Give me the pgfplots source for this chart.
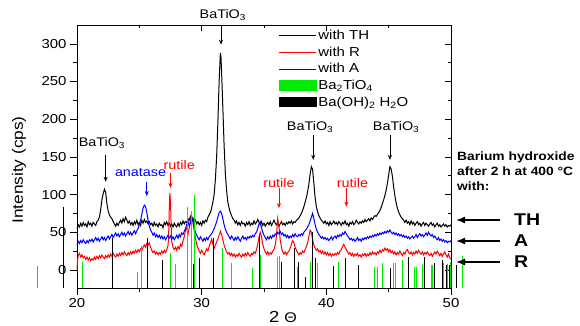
\documentclass[border=0pt]{standalone}
\usepackage{pgfplots}
\pgfplotsset{compat=1.18}
\usepackage{fontspec}
\setmainfont{Liberation Sans}[FakeStretch=1.15]
\usetikzlibrary{arrows.meta}
\definecolor{cgreen}{RGB}{0,235,0}
\begin{document}
\begin{tikzpicture}
\useasboundingbox (0pt,0pt) rectangle (580pt,326pt);
% overlay axis: top/right inside ticks
\begin{axis}[
  at={(77pt,38pt)}, anchor=south west, scale only axis, width=374pt, height=263pt,
  xmin=20, xmax=50, ymin=-24, ymax=325,
  axis x line*=top, axis y line*=right, tick align=inside,
  xtick={20,30,40,50}, minor x tick num=1,
  ytick={0,50,...,300}, minor y tick num=1,
  major tick length=6pt, minor tick length=3.5pt,
  xticklabels={}, yticklabels={},
  every tick/.style={black, line width=0.6pt},
  axis line style={line width=0.8pt},
]
\end{axis}
\begin{axis}[
  at={(77pt,38pt)}, anchor=south west, scale only axis, width=374pt, height=263pt,
  xmin=20, xmax=50, ymin=-24, ymax=325,
  axis x line*=bottom, axis y line*=left, tick align=outside,
  xtick={20,30,40,50}, minor x tick num=1,
  ytick={0,50,...,300}, minor y tick num=1,
  major tick length=7pt, minor tick length=4pt,
  every tick/.style={black, line width=0.6pt},
  axis line style={line width=0.8pt},
  ticklabel style={font=\fontsize{13}{15}\selectfont},
  /pgf/number format/assume math mode=true,
  clip=false,
  legend style={at={(axis description cs:0.53,0.995)}, anchor=north west, draw=none, fill=none,
    font=\fontsize{13}{15}\selectfont, row sep=1.6pt},
  legend cell align=left,
  legend image code/.code={\draw[mark repeat=2,mark phase=2,#1] plot coordinates {(0cm,0cm) (0.65cm,0cm) (1.3cm,0cm)};},
  unbounded coords=jump,
]
\addplot[black, line width=1pt] coordinates {
(20.0,55)(20.1,60)(20.2,57)(20.3,62)(20.4,58)(20.5,63)(20.6,59)(20.7,61)(20.8,57)(20.9,64)(21.0,60)(21.1,62)(21.2,58)(21.3,63)(21.4,61)(21.5,59)(21.6,64)(21.7,66)(21.8,70)(21.9,80)(22.0,93)(22.1,101)(22.2,107)(22.3,103)(22.4,88)(22.5,78)(22.6,73)(22.7,70)(22.8,68)(22.9,64)(23.0,61)(23.1,58)(23.2,62)(23.3,59)(23.4,63)(23.5,66)(23.6,62)(23.7,68)(23.8,64)(23.9,70)(24.0,66)(24.1,62)(24.2,65)(24.3,60)(24.4,63)(24.5,59)(24.6,64)(24.7,61)(24.8,66)(24.9,60)(25.0,63)(25.1,59)(25.2,66)(25.3,62)(25.4,67)(25.5,63)(25.6,65)(25.7,61)(25.8,64)(25.9,60)(26.0,62)(26.1,58)(26.2,63)(26.3,59)(26.4,61)(26.5,57)(26.6,62)(26.7,59)(26.8,60)(26.9,56)(27.0,63)(27.1,60)(27.2,64)(27.3,59)(27.4,62)(27.5,58)(27.6,61)(27.7,57)(27.8,62)(27.9,59)(28.0,57)(28.1,62)(28.2,58)(28.3,63)(28.4,60)(28.5,65)(28.6,61)(28.7,64)(28.8,63)(28.9,68)(29.0,66)(29.1,71)(29.2,65)(29.3,69)(29.4,63)(29.5,66)(29.6,61)(29.7,64)(29.8,60)(29.9,63)(30.0,59)(30.1,65)(30.2,62)(30.3,66)(30.4,64)(30.5,70)(30.6,73)(30.7,76)(30.8,82)(30.9,90)(31.0,100)(31.1,120)(31.2,150)(31.3,195)(31.4,250)(31.5,288)(31.55,282)(31.6,262)(31.7,215)(31.8,165)(31.9,128)(32.0,105)(32.1,90)(32.2,82)(32.3,76)(32.4,72)(32.5,68)(32.6,66)(32.7,62)(32.8,65)(32.9,60)(33.0,63)(33.1,59)(33.2,64)(33.3,61)(33.4,62)(33.5,58)(33.6,63)(33.7,60)(33.8,64)(33.9,59)(34.0,62)(34.1,60)(34.2,65)(34.3,61)(34.4,63)(34.5,67)(34.6,63)(34.7,60)(34.8,64)(34.9,59)(35.0,62)(35.1,58)(35.2,61)(35.3,63)(35.4,60)(35.5,64)(35.6,59)(35.7,62)(35.8,66)(35.9,62)(36.0,60)(36.1,63)(36.2,58)(36.3,61)(36.4,64)(36.5,60)(36.6,62)(36.7,59)(36.8,63)(36.9,61)(37.0,64)(37.1,62)(37.2,65)(37.3,61)(37.4,64)(37.5,63)(37.6,66)(37.7,67)(37.8,69)(37.9,72)(38.0,75)(38.1,79)(38.2,84)(38.3,90)(38.4,96)(38.5,104)(38.6,114)(38.7,127)(38.8,137)(38.9,133)(39.0,115)(39.1,96)(39.2,84)(39.3,77)(39.4,72)(39.5,69)(39.6,66)(39.7,64)(39.8,62)(39.9,65)(40.0,61)(40.1,63)(40.2,59)(40.3,64)(40.4,60)(40.5,62)(40.6,65)(40.7,61)(40.8,63)(40.9,60)(41.0,64)(41.1,62)(41.2,59)(41.3,63)(41.4,61)(41.5,65)(41.6,60)(41.7,62)(41.8,58)(41.9,63)(42.0,61)(42.1,64)(42.2,60)(42.3,62)(42.4,66)(42.5,63)(42.6,61)(42.7,64)(42.8,62)(42.9,65)(43.0,63)(43.1,67)(43.2,64)(43.3,66)(43.4,68)(43.5,65)(43.6,69)(43.7,67)(43.8,70)(43.9,72)(44.0,71)(44.1,74)(44.2,76)(44.3,79)(44.4,83)(44.5,88)(44.6,93)(44.7,99)(44.8,106)(44.9,115)(45.0,126)(45.1,137)(45.2,134)(45.3,124)(45.4,110)(45.5,98)(45.6,89)(45.7,82)(45.8,77)(45.9,73)(46.0,70)(46.1,68)(46.2,66)(46.3,63)(46.4,66)(46.5,62)(46.6,64)(46.7,60)(46.8,65)(46.9,61)(47.0,63)(47.1,59)(47.2,62)(47.3,64)(47.4,60)(47.5,62)(47.6,58)(47.7,61)(47.8,63)(47.9,59)(48.0,62)(48.1,60)(48.2,58)(48.3,61)(48.4,63)(48.5,59)(48.6,61)(48.7,57)(48.8,60)(48.9,62)(49.0,58)(49.1,60)(49.2,57)(49.3,59)(49.4,61)(49.5,58)(49.6,60)(49.7,57)(49.8,59)(49.9,58)(50.0,60)
};
\addlegendentry{with TH}
\addplot[red, line width=1pt] coordinates {
(20.0,0)(20.05,14)(20.1,19)(20.2,22)(20.3,17)(20.4,20)(20.5,16)(20.6,18)(20.7,14)(20.8,17)(20.9,13)(21.0,16)(21.1,12)(21.2,15)(21.3,13)(21.4,17)(21.5,14)(21.6,18)(21.7,15)(21.8,19)(21.9,16)(22.0,20)(22.1,17)(22.2,15)(22.3,19)(22.4,16)(22.5,20)(22.6,17)(22.7,21)(22.8,18)(22.9,22)(23.0,19)(23.1,17)(23.2,21)(23.3,18)(23.4,22)(23.5,19)(23.6,23)(23.7,20)(23.8,24)(23.9,21)(24.0,19)(24.1,23)(24.2,20)(24.3,24)(24.4,21)(24.5,25)(24.6,22)(24.7,26)(24.8,23)(24.9,27)(25.0,24)(25.1,28)(25.2,26)(25.3,30)(25.4,33)(25.5,30)(25.6,35)(25.7,33)(25.8,36)(25.9,30)(26.0,26)(26.1,23)(26.2,25)(26.3,21)(26.4,24)(26.5,20)(26.6,23)(26.7,21)(26.8,25)(26.9,22)(27.0,26)(27.1,23)(27.2,27)(27.3,32)(27.35,45)(27.4,80)(27.45,102)(27.5,90)(27.55,60)(27.6,38)(27.7,30)(27.8,27)(27.9,30)(28.0,26)(28.1,31)(28.2,28)(28.3,34)(28.4,31)(28.5,38)(28.6,44)(28.7,52)(28.8,56)(28.9,47)(29.0,55)(29.1,66)(29.2,72)(29.3,64)(29.4,52)(29.5,42)(29.6,34)(29.7,29)(29.8,25)(29.9,22)(30.0,26)(30.1,23)(30.2,20)(30.3,24)(30.4,28)(30.5,25)(30.6,31)(30.7,36)(30.8,41)(30.9,34)(31.0,29)(31.1,33)(31.2,37)(31.3,41)(31.4,46)(31.5,51)(31.6,47)(31.7,40)(31.8,33)(31.9,28)(32.0,24)(32.1,21)(32.2,23)(32.3,19)(32.4,22)(32.5,18)(32.6,21)(32.7,17)(32.8,20)(32.9,18)(33.0,22)(33.1,19)(33.2,17)(33.3,21)(33.4,18)(33.5,22)(33.6,19)(33.7,23)(33.8,20)(33.9,18)(34.0,22)(34.1,20)(34.2,24)(34.3,22)(34.4,27)(34.5,34)(34.6,44)(34.7,50)(34.8,44)(34.9,34)(35.0,28)(35.1,24)(35.2,21)(35.3,24)(35.4,20)(35.5,23)(35.6,21)(35.7,25)(35.8,27)(35.9,33)(36.0,45)(36.1,68)(36.2,58)(36.3,40)(36.4,30)(36.5,24)(36.6,21)(36.7,24)(36.8,20)(36.9,23)(37.0,25)(37.1,29)(37.2,34)(37.3,39)(37.4,36)(37.5,30)(37.6,26)(37.7,23)(37.8,20)(37.9,23)(38.0,21)(38.1,25)(38.2,23)(38.3,27)(38.4,31)(38.5,36)(38.6,44)(38.7,53)(38.8,50)(38.9,40)(39.0,33)(39.1,29)(39.2,26)(39.3,28)(39.4,24)(39.5,26)(39.6,22)(39.7,25)(39.8,21)(39.9,24)(40.0,20)(40.1,23)(40.2,19)(40.3,22)(40.4,18)(40.5,21)(40.6,19)(40.7,22)(40.8,20)(40.9,23)(41.0,21)(41.1,25)(41.2,27)(41.3,31)(41.4,34)(41.5,30)(41.6,27)(41.7,24)(41.8,21)(41.9,23)(42.0,19)(42.1,22)(42.2,18)(42.3,21)(42.4,19)(42.5,22)(42.6,18)(42.7,20)(42.8,17)(42.9,21)(43.0,19)(43.1,22)(43.2,18)(43.3,21)(43.4,19)(43.5,23)(43.6,20)(43.7,24)(43.8,21)(43.9,23)(44.0,20)(44.1,24)(44.2,22)(44.3,26)(44.4,23)(44.5,27)(44.6,25)(44.7,29)(44.8,26)(44.9,28)(45.0,24)(45.1,27)(45.2,23)(45.3,25)(45.4,21)(45.5,24)(45.6,20)(45.7,23)(45.8,21)(45.9,25)(46.0,22)(46.1,19)(46.2,23)(46.3,21)(46.4,25)(46.5,27)(46.6,23)(46.7,21)(46.8,24)(46.9,20)(47.0,23)(47.1,21)(47.2,25)(47.3,22)(47.4,26)(47.5,23)(47.6,21)(47.7,24)(47.8,20)(47.9,23)(48.0,21)(48.1,24)(48.2,21)(48.3,19)(48.4,22)(48.5,18)(48.6,21)(48.7,24)(48.8,21)(48.9,25)(49.0,22)(49.1,19)(49.2,22)(49.3,18)(49.4,21)(49.5,24)(49.6,20)(49.7,17)(49.8,21)(49.9,16)(50.0,14)
};
\addlegendentry{with R}
\addplot[blue, line width=1pt] coordinates {
(20.0,33)(20.1,38)(20.2,35)(20.3,39)(20.4,36)(20.5,40)(20.6,37)(20.7,35)(20.8,39)(20.9,36)(21.0,40)(21.1,38)(21.2,41)(21.3,37)(21.4,40)(21.5,43)(21.6,39)(21.7,42)(21.8,38)(21.9,41)(22.0,44)(22.1,40)(22.2,43)(22.3,39)(22.4,42)(22.5,45)(22.6,41)(22.7,44)(22.8,47)(22.9,43)(23.0,46)(23.1,49)(23.2,45)(23.3,48)(23.4,44)(23.5,47)(23.6,50)(23.7,46)(23.8,49)(23.9,45)(24.0,48)(24.1,51)(24.2,47)(24.3,50)(24.4,46)(24.5,49)(24.6,52)(24.7,48)(24.8,52)(24.9,55)(25.0,60)(25.1,66)(25.2,74)(25.3,82)(25.4,86)(25.5,84)(25.6,76)(25.7,66)(25.8,58)(25.9,53)(26.0,50)(26.1,46)(26.2,49)(26.3,44)(26.4,47)(26.5,43)(26.6,46)(26.7,42)(26.8,45)(26.9,41)(27.0,44)(27.1,40)(27.2,43)(27.3,46)(27.4,42)(27.5,45)(27.6,41)(27.7,44)(27.8,40)(27.9,43)(28.0,46)(28.1,42)(28.2,47)(28.3,44)(28.4,49)(28.5,47)(28.6,51)(28.7,55)(28.8,60)(28.9,66)(29.0,58)(29.1,62)(29.2,70)(29.3,64)(29.4,56)(29.5,50)(29.6,46)(29.7,43)(29.8,40)(29.9,44)(30.0,41)(30.1,38)(30.2,42)(30.3,39)(30.4,43)(30.5,40)(30.6,44)(30.7,46)(30.8,48)(30.9,51)(31.0,55)(31.1,59)(31.2,64)(31.3,70)(31.4,76)(31.5,78)(31.6,75)(31.7,68)(31.8,60)(31.9,54)(32.0,50)(32.1,47)(32.2,44)(32.3,41)(32.4,45)(32.5,42)(32.6,39)(32.7,43)(32.8,40)(32.9,44)(33.0,41)(33.1,38)(33.2,42)(33.3,45)(33.4,41)(33.5,43)(33.6,40)(33.7,44)(33.8,42)(33.9,45)(34.0,43)(34.1,46)(34.2,44)(34.3,48)(34.4,50)(34.5,55)(34.6,61)(34.7,64)(34.8,56)(34.9,50)(35.0,46)(35.1,43)(35.2,40)(35.3,44)(35.4,41)(35.5,45)(35.6,42)(35.7,46)(35.8,44)(35.9,48)(36.0,46)(36.1,50)(36.2,48)(36.3,51)(36.4,47)(36.5,49)(36.6,45)(36.7,47)(36.8,43)(36.9,46)(37.0,42)(37.1,45)(37.2,43)(37.3,47)(37.4,44)(37.5,48)(37.6,45)(37.7,44)(37.8,47)(37.9,45)(38.0,48)(38.1,46)(38.2,50)(38.3,52)(38.4,54)(38.5,57)(38.6,60)(38.7,65)(38.8,70)(38.9,75)(39.0,68)(39.1,60)(39.2,54)(39.3,50)(39.4,47)(39.5,45)(39.6,42)(39.7,44)(39.8,41)(39.9,43)(40.0,40)(40.1,42)(40.2,39)(40.3,41)(40.4,44)(40.5,40)(40.6,43)(40.7,45)(40.8,42)(40.9,46)(41.0,44)(41.1,47)(41.2,45)(41.3,49)(41.4,47)(41.5,51)(41.6,48)(41.7,45)(41.8,43)(41.9,40)(42.0,42)(42.1,39)(42.2,41)(42.3,38)(42.4,40)(42.5,43)(42.6,39)(42.7,41)(42.8,38)(42.9,42)(43.0,40)(43.1,43)(43.2,41)(43.3,44)(43.4,42)(43.5,45)(43.6,43)(43.7,46)(43.8,44)(43.9,47)(44.0,45)(44.1,48)(44.2,46)(44.3,49)(44.4,47)(44.5,50)(44.6,48)(44.7,51)(44.8,49)(44.9,52)(45.0,50)(45.1,53)(45.2,50)(45.3,48)(45.4,50)(45.5,47)(45.6,49)(45.7,46)(45.8,48)(45.9,45)(46.0,47)(46.1,44)(46.2,46)(46.3,43)(46.4,45)(46.5,42)(46.6,44)(46.7,41)(46.8,43)(46.9,45)(47.0,42)(47.1,44)(47.2,47)(47.3,43)(47.4,46)(47.5,48)(47.6,45)(47.7,47)(47.8,44)(47.9,46)(48.0,49)(48.1,46)(48.2,50)(48.3,47)(48.4,45)(48.5,47)(48.6,43)(48.7,45)(48.8,42)(48.9,40)(49.0,43)(49.1,39)(49.2,41)(49.3,38)(49.4,40)(49.5,37)(49.6,39)(49.7,36)(49.8,38)(49.9,37)(50.0,39)
};
\addlegendentry{with A}
\addplot[cgreen, line width=0.8pt, legend image code/.code={\fill[cgreen] (0cm,-0.17cm) rectangle (1.3cm,0.17cm);}] coordinates {
(16.8,-24)(16.8,5)(16.8,nan)
(20.45,-24)(20.45,11)(20.45,nan)
(24.85,-24)(24.85,-3)(24.85,nan)
(25.2,-24)(25.2,32)(25.2,nan)
(27.47,-24)(27.47,22)(27.47,nan)
(27.87,-24)(27.87,8)(27.87,nan)
(28.89,-24)(28.89,84)(28.89,nan)
(29.2,-24)(29.2,78)(29.2,nan)
(29.4,-24)(29.4,100)(29.4,nan)
(31.7,-24)(31.7,29)(31.7,nan)
(32.42,-24)(32.42,9)(32.42,nan)
(34.1,-24)(34.1,3)(34.1,nan)
(34.75,-24)(34.75,20)(34.75,nan)
(36.04,-24)(36.04,17)(36.04,nan)
(36.2,-24)(36.2,18)(36.2,nan)
(37.7,-24)(37.7,4)(37.7,nan)
(38.7,-24)(38.7,10)(38.7,nan)
(39.25,-24)(39.25,9)(39.25,nan)
(41.0,-24)(41.0,11)(41.0,nan)
(43.83,-24)(43.83,4)(43.83,nan)
(44.1,-24)(44.1,4)(44.1,nan)
(44.5,-24)(44.5,9)(44.5,nan)
(45.4,-24)(45.4,9)(45.4,nan)
(45.55,-24)(45.55,9)(45.55,nan)
(46.1,-24)(46.1,13)(46.1,nan)
(47.04,-24)(47.04,4)(47.04,nan)
(47.2,-24)(47.2,4)(47.2,nan)
(47.7,-24)(47.7,8)(47.7,nan)
(48.4,-24)(48.4,6)(48.4,nan)
(48.5,-24)(48.5,6)(48.5,nan)
(49.42,-24)(49.42,9)(49.42,nan)
(49.7,-24)(49.7,8)(49.7,nan)
(49.96,-24)(49.96,10)(49.96,nan)
(50.9,-24)(50.9,18)
};
\addlegendentry{Ba\textsubscript{2}TiO\textsubscript{4}}
\addplot[black, line width=0.8pt, legend image code/.code={\fill[black] (0cm,-0.17cm) rectangle (1.3cm,0.17cm);}] coordinates {
(18.9,-24)(18.9,84)(18.9,nan)
(22.87,-24)(22.87,42)(22.87,nan)
(25.65,-24)(25.65,42)(25.65,nan)
(26.88,-24)(26.88,13)(26.88,nan)
(29.3,-24)(29.3,8)(29.3,nan)
(29.82,-24)(29.82,16)(29.82,nan)
(30.95,-24)(30.95,43)(30.95,nan)
(34.6,-24)(34.6,45)(34.6,nan)
(36.4,-24)(36.4,10)(36.4,nan)
(37.4,-24)(37.4,29)(37.4,nan)
(37.75,-24)(37.75,10)(37.75,nan)
(38.3,-24)(38.3,-9)(38.3,nan)
(38.85,-24)(38.85,50)(38.85,nan)
(39.14,-24)(39.14,16)(39.14,nan)
(40.59,-24)(40.59,5)(40.59,nan)
(41.53,-24)(41.53,16)(41.53,nan)
(42.57,-24)(42.57,7)(42.57,nan)
(45.1,-24)(45.1,3)(45.1,nan)
(46.6,-24)(46.6,17)(46.6,nan)
(47.85,-24)(47.85,17)(47.85,nan)
(48.65,-24)(48.65,9)(48.65,nan)
(49.3,-24)(49.3,13)(49.3,nan)
(49.6,-24)(49.6,7)(49.6,nan)
(49.9,-24)(49.9,7)(49.9,nan)
(50.4,-24)(50.4,7)
};
\addlegendentry{Ba(OH)\textsubscript{2} H\textsubscript{2}O}
% annotations
\begin{scope}[font=\fontsize{12.5}{14}\selectfont, >={Stealth[length=5pt,width=4pt]}]
\node at (axis cs:22.0,169) {BaTiO\textsubscript{3}};
\draw[->, line width=0.7pt] (axis cs:22.3,153) -- (axis cs:22.3,117);
\node[blue] at (axis cs:25.1,129) {anatase};
\draw[->, blue, line width=0.7pt] (axis cs:25.6,117) -- (axis cs:25.6,98);
\node[red] at (axis cs:28.2,139) {rutile};
\draw[->, red, line width=0.7pt] (axis cs:27.5,129) -- (axis cs:27.5,109);
\node at (axis cs:31.7,338) {BaTiO\textsubscript{3}};
\draw[->, line width=0.7pt] (axis cs:31.55,325) -- (axis cs:31.55,299);
\node[red] at (axis cs:36.2,115) {rutile};
\draw[->, red, line width=0.7pt] (axis cs:36.2,109) -- (axis cs:36.2,82);
\node at (axis cs:38.7,190) {BaTiO\textsubscript{3}};
\draw[->, line width=0.7pt] (axis cs:38.95,179) -- (axis cs:38.95,146);
\node[red] at (axis cs:42.1,115) {rutile};
\draw[->, red, line width=0.7pt] (axis cs:41.6,109) -- (axis cs:41.6,84);
\node at (axis cs:45.6,190) {BaTiO\textsubscript{3}};
\draw[->, line width=0.7pt] (axis cs:45.1,179) -- (axis cs:45.1,146);
\end{scope}
\end{axis}
% axis labels
\node[rotate=90, font=\fontsize{15}{17}\selectfont] at (19pt,156pt) {Intensity (cps)};
\node[font=\fontsize{16}{18}\selectfont] at (283pt,9pt) {2 {\fontsize{14}{16}\selectfont Θ}};
% right-side notes
\node[anchor=north west, align=left, font=\fontsize{12}{15}\selectfont\bfseries, inner sep=0pt] at (457pt,174pt) {Barium hydroxide\\after 2 h at 400 °C\\with:};
\begin{scope}[line width=1.4pt, >={Latex[length=9pt,width=7pt]}]
\draw[->] (500pt,106pt) -- (456pt,106pt);
\draw[->] (500pt,85pt) -- (456pt,85pt);
\draw[->] (500pt,64pt) -- (456pt,64pt);
\end{scope}
\begin{scope}[font=\fontsize{17}{19}\selectfont\bfseries, anchor=west, inner sep=0pt]
\node at (514pt,106pt) {TH};
\node at (514pt,85pt) {A};
\node at (514pt,64pt) {R};
\end{scope}
\end{tikzpicture}
\end{document}
